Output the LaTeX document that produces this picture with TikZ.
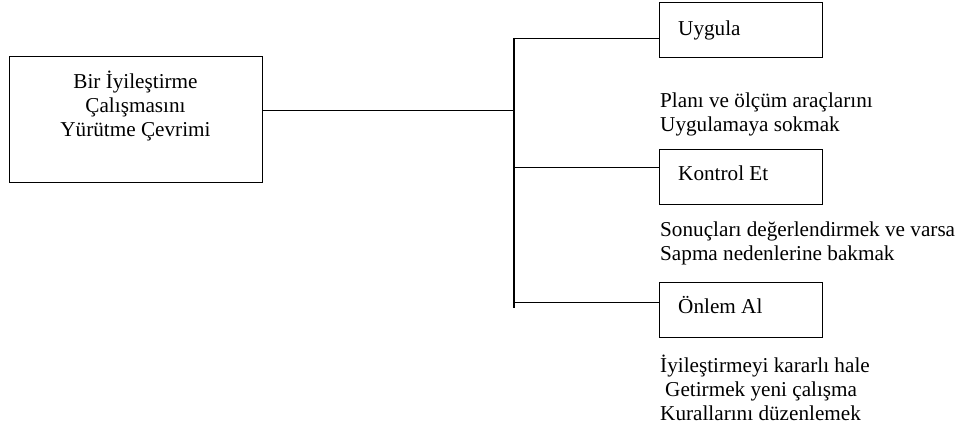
\documentclass[tikz,border=0pt]{standalone}
\usepackage{fontspec}
\setmainfont{Liberation Serif}
\begin{document}
\begin{tikzpicture}[x=1pt,y=-1pt,
  every node/.style={font=\fontsize{21.2}{24.4}\selectfont, inner sep=0pt},
  frame/.style={draw, line width=1pt},
  stepbox/.style={frame, minimum width=163pt, minimum height=55pt},
  link/.style={line width=1pt},
  spine/.style={line width=1.8pt},
  note/.style={anchor=base west, align=left}]
\useasboundingbox (0,0) rectangle (962,427);

% main box and its caption (base anchor = last line's baseline)
\node[frame, minimum width=253pt, minimum height=126pt] (main) at (135.5,120) {};
\node[anchor=base, align=center] (maintext) at (135.5,137)
  {Bir İyileştirme\\Çalışmasını\\Yürütme Çevrimi};

% the three steps
\node[stepbox] (uygula) at (740.5,30.5) {};
\node[anchor=base west] (uygulat) at (678,36) {Uygula};
\node[stepbox] (kontrol) at (740.5,177.5) {};
\node[anchor=base west] (kontrolt) at (678,181) {Kontrol Et};
\node[stepbox] (onlem) at (740.5,310) {};
\node[anchor=base west] (onlemt) at (678,314) {Önlem Al};

% notes under each step
\node[note] (n1) at (660,132) {Planı ve ölçüm araçlarını\\Uygulamaya sokmak};
\node[note] (n2) at (660,261) {Sonuçları değerlendirmek ve varsa\\Sapma nedenlerine bakmak};
\node[note] (n3) at (660,421) {İyileştirmeyi kararlı hale\\\hspace*{5pt}Getirmek yeni çalışma\\Kurallarını düzenlemek};

% spine and branches
\coordinate (top) at (514,38);
\coordinate (bot) at (514,308);
\coordinate (b1) at (514,39);
\coordinate (b2) at (514,168);
\coordinate (b3) at (514,303);
\coordinate (j) at (514,111);
\draw[spine] (top) -- (bot);
\draw[link] (main.east |- j) -- (j);
\draw[link] (b1) -- (b1 -| uygula.west);
\draw[link] (b2) -- (b2 -| kontrol.west);
\draw[link] (b3) -- (b3 -| onlem.west);
\end{tikzpicture}
\end{document}
